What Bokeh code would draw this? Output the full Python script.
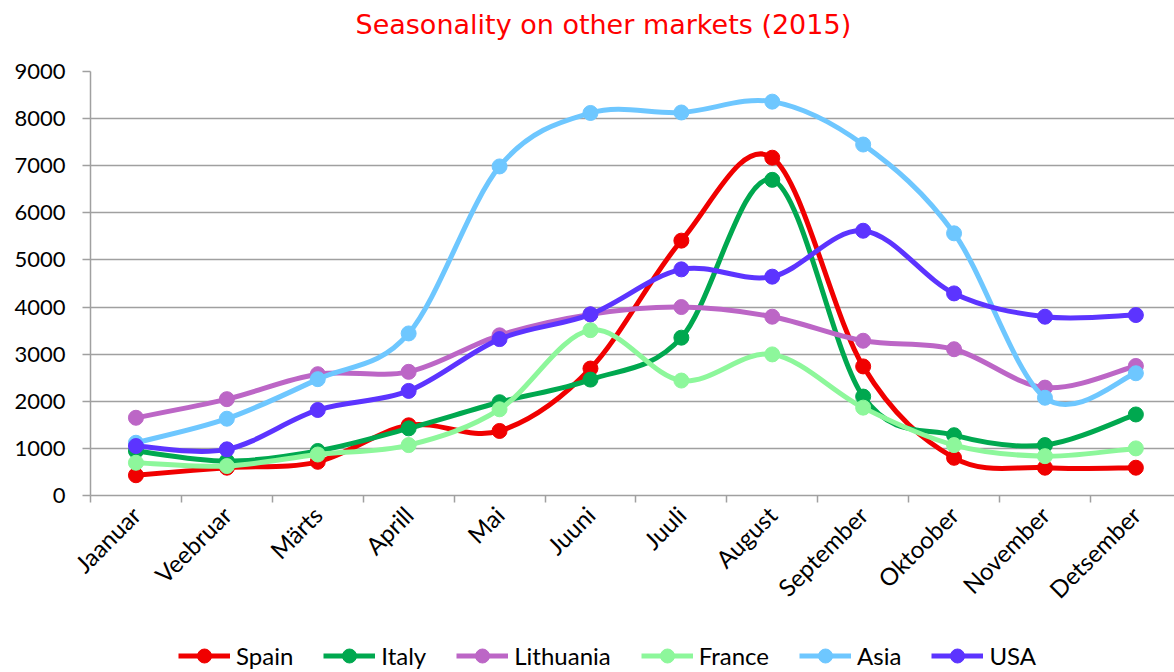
from math import pi
from bokeh.plotting import figure
from bokeh.layouts import column
from bokeh.models import FixedTicker, Range1d, Legend, LegendItem, Title
from bokeh.embed import file_html
from bokeh.resources import INLINE

months = ["Jaanuar", "Veebruar", "Märts", "Aprill", "Mai", "Juuni",
          "Juuli", "August", "September", "Oktoober", "November", "Detsember"]

spain = [430, 590, 715, 1490, 1370, 2695, 5410, 7170, 2740, 800, 590, 590]
italy = [945, 730, 945, 1425, 1980, 2460, 3350, 6700, 2100, 1280, 1070, 1720]
lithuania = [1650, 2045, 2575, 2625, 3400, 3845, 4000, 3795, 3285, 3105, 2290, 2750]
france = [695, 625, 870, 1070, 1830, 3510, 2440, 2995, 1865, 1070, 835, 1000]
asia = [1120, 1630, 2470, 3440, 6985, 8120, 8130, 8360, 7450, 5565, 2075, 2595]
usa = [1050, 980, 1815, 2220, 3320, 3845, 4800, 4645, 5620, 4290, 3795, 3830]

series_names = ["Spain", "Italy", "Lithuania", "France", "Asia", "USA"]
series_values = [spain, italy, lithuania, france, asia, usa]
series_colors = ["#F00000", "#00A84F", "#BC66C6", "#8DF79B", "#6EC7FF", "#5C34FF"]

FONT = "Lato"

p = figure(width=1174, height=628, output_backend="svg", toolbar_location=None,
           x_range=Range1d(-0.5, 11.425), y_range=Range1d(0, 9000),
           min_border_left=90, min_border_right=0, min_border_top=71,
           min_border_bottom=133, title=None)
p.outline_line_color = None
p.background_fill_color = "white"
p.border_fill_color = "white"

# spacer between title and frame, then the title itself
p.add_layout(Title(text=" ", text_font_size="26px", standoff=0), "above")
p.add_layout(Title(text="Seasonality on other markets (2015)", align="left",
                   offset=265, text_font="DejaVu Sans", text_font_size="27px",
                   text_font_style="normal", text_color="#FF0000", standoff=0),
             "above")

# y axis
p.yaxis.ticker = FixedTicker(ticks=list(range(0, 9001, 1000)))
p.yaxis.major_tick_out = 8
p.yaxis.major_tick_in = 0
p.yaxis.minor_tick_line_color = None
p.yaxis.axis_line_color = "#A0A0A0"
p.yaxis.axis_line_width = 1.5
p.yaxis.major_tick_line_color = "#A0A0A0"
p.yaxis.major_tick_line_width = 1.5
p.yaxis.major_label_text_font = FONT
p.yaxis.major_label_text_font_size = "22px"
p.yaxis.major_label_text_color = "black"
p.yaxis.major_label_standoff = 17

# x axis: labels at month centres, tick marks at boundaries
xt = list(range(len(months)))
p.xaxis.ticker = FixedTicker(ticks=xt, minor_ticks=[i - 0.5 for i in range(len(months) + 1)])
p.xaxis.major_label_overrides = {i: m for i, m in enumerate(months)}
p.xaxis.major_label_orientation = pi / 4
p.xaxis.major_tick_out = 0
p.xaxis.major_tick_in = 0
p.xaxis.minor_tick_out = 7
p.xaxis.minor_tick_in = 0
p.xaxis.minor_tick_line_color = "#A0A0A0"
p.xaxis.minor_tick_line_width = 1.5
p.xaxis.axis_line_color = "#A0A0A0"
p.xaxis.axis_line_width = 1.5
p.xaxis.major_label_text_font = FONT
p.xaxis.major_label_text_font_size = "24px"
p.xaxis.major_label_text_color = "black"
p.xaxis.major_label_standoff = 8

p.xgrid.grid_line_color = None
p.ygrid.grid_line_color = "#A0A0A0"
p.ygrid.grid_line_width = 1.5


def smooth_controls(vals):
    n = len(vals)
    xs = list(range(n))
    x0, y0, x1, y1, cx0, cy0, cx1, cy1 = ([] for _ in range(8))
    for i in range(n - 1):
        pa = i - 1 if i > 0 else i
        pd = i + 2 if i + 2 < n else i + 1
        x0.append(xs[i]); y0.append(vals[i])
        x1.append(xs[i + 1]); y1.append(vals[i + 1])
        cx0.append(xs[i] + (xs[i + 1] - xs[pa]) / 6)
        cy0.append(vals[i] + (vals[i + 1] - vals[pa]) / 6)
        cx1.append(xs[i + 1] - (xs[pd] - xs[i]) / 6)
        cy1.append(vals[i + 1] - (vals[pd] - vals[i]) / 6)
    return dict(x0=x0, y0=y0, x1=x1, y1=y1, cx0=cx0, cy0=cy0, cx1=cx1, cy1=cy1)


for name, vals, col in zip(series_names, series_values, series_colors):
    c = smooth_controls(vals)
    p.bezier(x0=c["x0"], y0=c["y0"], x1=c["x1"], y1=c["y1"],
             cx0=c["cx0"], cy0=c["cy0"], cx1=c["cx1"], cy1=c["cy1"],
             line_color=col, line_width=5)
    p.scatter(x=list(range(len(vals))), y=vals, size=15, marker="circle",
              fill_color=col, line_color=col)

# legend strip below the chart (its renderers hold one point kept outside the view)
lf = figure(width=1174, height=44, output_backend="svg", toolbar_location=None,
            x_range=Range1d(0, 1), y_range=Range1d(0, 1),
            x_axis_location=None, y_axis_location=None,
            min_border_left=0, min_border_right=0, min_border_top=0,
            min_border_bottom=0, title=None)
lf.outline_line_color = None
lf.xgrid.grid_line_color = None
lf.ygrid.grid_line_color = None

items = []
for name, col in zip(series_names, series_colors):
    rl = lf.line(x=[-5, -4], y=[-5, -5], line_color=col, line_width=5)
    rs = lf.scatter(x=[-5], y=[-5], size=15, marker="circle", fill_color=col, line_color=col)
    items.append(LegendItem(label=name, renderers=[rl, rs]))

legend = Legend(items=items, orientation="horizontal", location=(88, -1),
                background_fill_alpha=0, border_line_color=None, padding=0,
                margin=0, spacing=30, glyph_width=52, glyph_height=35,
                label_standoff=6, label_text_font=FONT, label_text_color="black",
                label_text_font_size="24px", label_height=20)
lf.add_layout(legend, "center")

layout = column(p, lf, spacing=0)
open("out.html", "w").write(file_html(layout, INLINE))
